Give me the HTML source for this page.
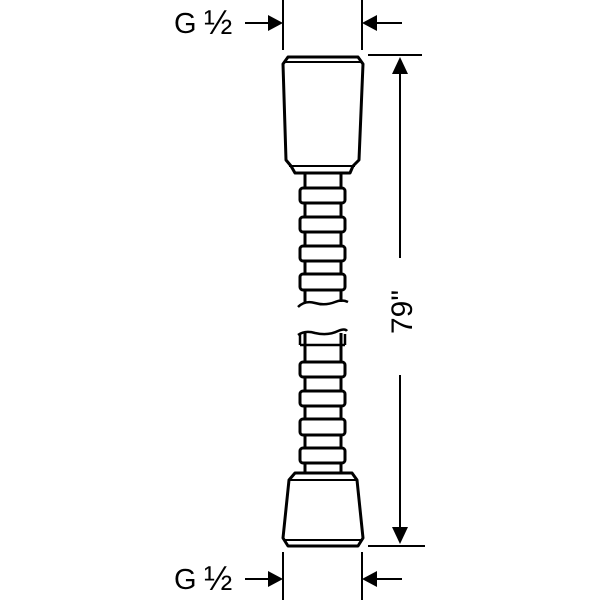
<!DOCTYPE html>
<html><head><style>html,body{margin:0;padding:0;background:#fff}</style></head>
<body>
<svg width="600" height="600" viewBox="0 0 600 600" xmlns="http://www.w3.org/2000/svg">
<g fill="none" stroke="#000" stroke-width="2">
<line x1="283" y1="0" x2="283" y2="50"/>
<line x1="362" y1="0" x2="362" y2="50"/>
<line x1="283" y1="552" x2="283" y2="600"/>
<line x1="362" y1="552" x2="362" y2="600"/>
<line x1="368" y1="55" x2="422" y2="55"/>
<line x1="368" y1="546" x2="425" y2="546"/>
<line x1="245" y1="23" x2="270" y2="23"/>
<line x1="375" y1="23" x2="402" y2="23"/>
<line x1="245" y1="579" x2="270" y2="579"/>
<line x1="375" y1="579" x2="402" y2="579"/>
<line x1="400" y1="70" x2="400" y2="258"/>
<line x1="400" y1="375" x2="400" y2="530"/>
<path d="M288 57 L358 57 L363 64 L359 160 L353 166 L350 173 L295 173 L291 166 L286 160 L283 64 Z" stroke-width="3" stroke-linejoin="round"/>
<line x1="285" y1="62" x2="361" y2="62"/>
<line x1="289" y1="166" x2="355" y2="166"/>
<line x1="305" y1="173" x2="305" y2="302" stroke-width="3"/>
<line x1="341" y1="173" x2="341" y2="302" stroke-width="3"/>
<rect x="300" y="188" width="45" height="15" rx="3" fill="#fff" stroke-width="3"/>
<rect x="300" y="217" width="45" height="15" rx="3" fill="#fff" stroke-width="3"/>
<rect x="300" y="246" width="45" height="15" rx="3" fill="#fff" stroke-width="3"/>
<rect x="300" y="274" width="45" height="16" rx="3" fill="#fff" stroke-width="3"/>
<path d="M298 307 Q305 300 315 303 Q325 306 335 302 Q342 299 348 302" stroke-width="2.5"/>
<path d="M298 335 Q305 330 315 333 Q328 336 338 331 Q345 328 347 331" stroke-width="2.5"/>
<line x1="305" y1="333" x2="305" y2="473" stroke-width="3"/>
<line x1="341" y1="333" x2="341" y2="473" stroke-width="3"/>
<line x1="300" y1="334" x2="300" y2="345" stroke-width="2.5"/>
<line x1="345" y1="334" x2="345" y2="345" stroke-width="2.5"/>
<line x1="300" y1="345" x2="345" y2="345" stroke-width="2.5"/>
<rect x="300" y="362" width="45" height="15" rx="3" fill="#fff" stroke-width="3"/>
<rect x="300" y="391" width="45" height="15" rx="3" fill="#fff" stroke-width="3"/>
<rect x="300" y="419" width="45" height="16" rx="3" fill="#fff" stroke-width="3"/>
<rect x="300" y="448" width="45" height="15" rx="3" fill="#fff" stroke-width="3"/>
<path d="M295 473 L352 473 L357 480 L363 538 L358 546 L288 546 L283 538 L289 480 Z" fill="#fff" stroke-width="3" stroke-linejoin="round"/>
<line x1="289" y1="480" x2="357" y2="480"/>
<line x1="284" y1="540" x2="362" y2="540"/>
</g>
<g fill="#000">
<polygon points="283,23 268,15 268,31"/>
<polygon points="362,23 377,15 377,31"/>
<polygon points="283,579 268,571 268,587"/>
<polygon points="362,579 377,571 377,587"/>
<polygon points="400,57 392,74 408,74"/>
<polygon points="400,544 392,527 408,527"/>
</g>
<g font-family="Liberation Sans, sans-serif" fill="#000">
<text x="174" y="33" font-size="29">G</text><text x="204" y="34" font-size="34">½</text>
<text x="174" y="589" font-size="29">G</text><text x="204" y="590" font-size="34">½</text>
<text x="0" y="0" font-size="30" text-anchor="middle" transform="translate(412,312) rotate(-90)">79"</text>
</g>
</svg>
</body></html>
